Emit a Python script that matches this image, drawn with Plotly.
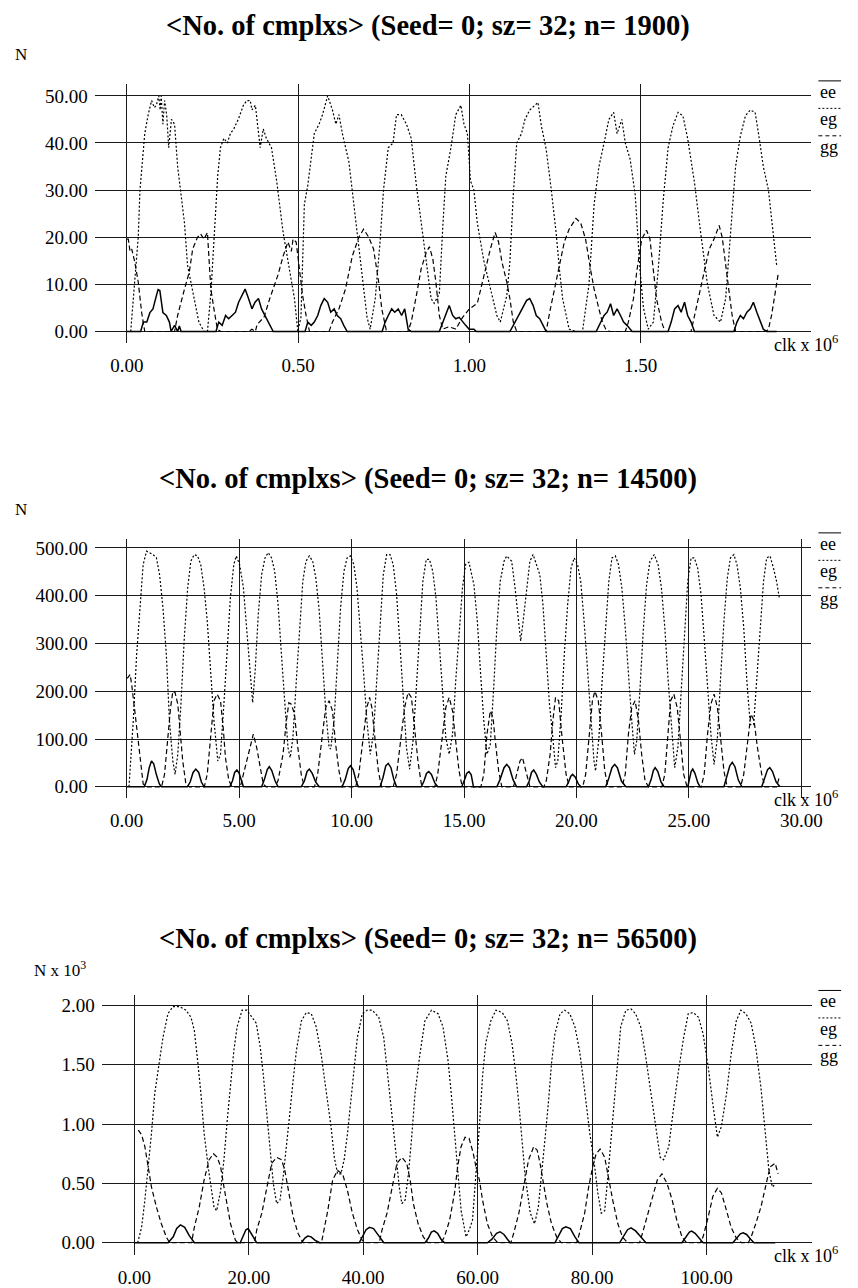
import plotly.graph_objects as go

# page body has an 8px default margin; figure is placed at (8, 8) on screen
OFF = 8
W, H = 858 - OFF, 1288 - OFF

# ---------------- Panel 1 (n = 1900), x in clk x 10^6 ----------------
p1_ee_x = [0.00, 0.040, 0.048, 0.058, 0.067, 0.076, 0.086, 0.091, 0.096, 0.100, 0.105, 0.115, 0.124, 0.129,
           0.139, 0.148, 0.153, 0.158, 0.260, 0.268, 0.278, 0.288, 0.297, 0.307, 0.317, 0.326, 0.336, 0.345,
           0.355, 0.365, 0.374, 0.384, 0.393, 0.403, 0.413, 0.422, 0.427, 0.520, 0.528, 0.538, 0.547, 0.557,
           0.566, 0.576, 0.586, 0.595, 0.605, 0.614, 0.624, 0.633, 0.643, 0.745, 0.754, 0.763, 0.773, 0.782,
           0.792, 0.802, 0.811, 0.821, 0.830, 0.912, 0.922, 0.931, 0.941, 0.951, 0.960, 0.970, 0.980, 0.989,
           0.999, 1.013, 1.020, 1.118, 1.128, 1.138, 1.147, 1.157, 1.167, 1.176, 1.186, 1.195, 1.205, 1.215,
           1.224, 1.370, 1.378, 1.393, 1.402, 1.412, 1.421, 1.431, 1.441, 1.450, 1.460, 1.469, 1.475, 1.580,
           1.589, 1.599, 1.609, 1.618, 1.628, 1.637, 1.647, 1.657, 1.772, 1.781, 1.791, 1.800, 1.810, 1.820,
           1.829, 1.839, 1.849, 1.858, 1.868, 1.897]
p1_ee_y = [0, 0, 2, 2, 4, 4.8, 7.6, 8.9, 8.7, 6.2, 4, 3.4, 2, 0,
           1.3, 0, 1.2, 0, 0, 2, 1.3, 3.4, 2.7, 3.4, 4.1, 6.2, 7.6, 9,
           7, 4.8, 6.2, 7, 4.8, 3.4, 2, 0.5, 0, 0, 2, 1.3, 2, 3.4,
           5.5, 7, 6.2, 4.1, 4.8, 3.4, 2.7, 1.3, 0, 0, 2, 3.4, 4.8, 4.1,
           4.8, 3.4, 4.8, 0.5, 0, 0, 2, 3.4, 5.5, 3.4, 2.7, 3.0, 2, 1.3,
           0.5, 0.5, 0, 0, 1.3, 2.7, 4.1, 5.5, 6.6, 7, 5.5, 3.4, 2.7, 1.3,
           0, 0, 1.3, 3.4, 4.1, 5.9, 3.4, 4.8, 3.4, 2, 1.3, 0.5, 0, 0,
           2, 4.8, 5.5, 4.1, 6.2, 3.4, 2, 0, 0, 2, 3.4, 2.7, 4.1, 4.8,
           6.2, 4.1, 2, 0.5, 0, 0]

p1_eg_x = [0.011, 0.020, 0.033, 0.038, 0.045, 0.052, 0.062, 0.072, 0.080, 0.086, 0.093, 0.097, 0.100, 0.105,
           0.110, 0.116, 0.122, 0.130, 0.139, 0.148, 0.158, 0.168, 0.177, 0.196, 0.210, 0.225, 0.235, 0.245,
           0.255, 0.265, 0.273, 0.283, 0.293, 0.302, 0.312, 0.325, 0.340, 0.350, 0.360, 0.365, 0.375, 0.389,
           0.398, 0.407, 0.422, 0.437, 0.456, 0.475, 0.489, 0.499, 0.508, 0.518, 0.528, 0.547, 0.561, 0.571,
           0.586, 0.600, 0.610, 0.619, 0.629, 0.648, 0.662, 0.681, 0.701, 0.710, 0.725, 0.739, 0.749, 0.763,
           0.777, 0.787, 0.801, 0.816, 0.830, 0.845, 0.864, 0.878, 0.888, 0.897, 0.912, 0.922, 0.931, 0.946,
           0.960, 0.975, 0.984, 0.994, 1.003, 1.013, 1.023, 1.042, 1.061, 1.080, 1.090, 1.109, 1.118, 1.128,
           1.138, 1.152, 1.162, 1.176, 1.191, 1.200, 1.210, 1.224, 1.239, 1.253, 1.263, 1.272, 1.291, 1.310,
           1.330, 1.349, 1.364, 1.378, 1.393, 1.407, 1.421, 1.431, 1.445, 1.455, 1.469, 1.484, 1.498, 1.508,
           1.522, 1.537, 1.551, 1.566, 1.580, 1.594, 1.609, 1.623, 1.637, 1.657, 1.675, 1.695, 1.714, 1.733,
           1.748, 1.762, 1.777, 1.791, 1.806, 1.820, 1.834, 1.844, 1.858, 1.873, 1.887, 1.897]
p1_eg_y = [0, 8, 20, 30, 37, 42, 46, 49, 47.5, 48, 50, 47, 50, 44,
           49, 46, 39, 45, 44, 35, 29, 23, 14, 7, 2, 0, 0, 8,
           22, 33, 39, 41, 40, 42, 43, 45, 48, 49, 49, 47, 48, 39,
           43, 41, 39, 32, 21, 13, 7, 0, 3, 27, 31, 42, 44, 46,
           50, 47, 44, 46, 42, 36, 27, 16, 3, 0.5, 7, 19, 30, 39,
           40, 46, 46, 44, 41, 31, 20, 12, 7, 6, 8, 22, 33, 39,
           46, 48, 44, 42, 32, 30, 23, 15, 9, 3.4, 2, 7.6, 14.7, 29,
           40, 42, 45, 47, 48, 48.6, 43.6, 38.7, 30, 21, 13, 7, 0.5, 0,
           0, 10, 27, 35, 40, 45, 46.5, 42, 45, 40, 36.6, 29, 13, 5,
           0.5, 2, 13, 28, 39, 43.6, 46.5, 45.8, 41, 31.6, 21, 10, 3.4, 2,
           7, 21, 35, 41.5, 45.8, 47, 46.5, 42, 35, 30, 21, 14]

p1_gg_x = [0.000, 0.004, 0.009, 0.014, 0.023, 0.033, 0.043, 0.052, 0.139, 0.148, 0.168, 0.182, 0.192, 0.206,
           0.215, 0.225, 0.235, 0.240, 0.245, 0.254, 0.264, 0.274, 0.355, 0.365, 0.375, 0.380, 0.400, 0.417,
           0.441, 0.456, 0.470, 0.480, 0.485, 0.494, 0.504, 0.513, 0.523, 0.533, 0.590, 0.600, 0.619, 0.638,
           0.658, 0.677, 0.691, 0.706, 0.720, 0.735, 0.744, 0.758, 0.820, 0.830, 0.845, 0.859, 0.874, 0.883,
           0.893, 0.902, 0.912, 0.922, 0.940, 0.960, 0.980, 1.000, 1.023, 1.042, 1.061, 1.075, 1.085, 1.095,
           1.109, 1.118, 1.128, 1.138, 1.224, 1.234, 1.248, 1.263, 1.277, 1.291, 1.311, 1.325, 1.339, 1.354,
           1.364, 1.378, 1.388, 1.398, 1.410, 1.455, 1.464, 1.479, 1.489, 1.503, 1.517, 1.527, 1.537, 1.546,
           1.561, 1.571, 1.647, 1.657, 1.671, 1.686, 1.700, 1.714, 1.729, 1.738, 1.748, 1.757, 1.767, 1.777,
           1.865, 1.873, 1.882, 1.892, 1.901]
p1_gg_y = [19.6, 19.6, 17, 17.5, 14.7, 10.5, 4, 0, 0, 3.4, 9, 12.6, 17.5, 20,
           20.7, 19.6, 21, 16, 9, 4.8, 0.5, 0, 0, 0.5, 0, 1.5, 3, 7,
           12, 16, 19, 17, 19.6, 19, 13, 7.6, 3.4, 0, 0, 2, 4.8, 9,
           16, 20, 21.7, 20, 17.5, 10.5, 4.8, 0, 0, 2, 7.6, 13.3, 16.8, 18,
           15.4, 10.5, 3.4, 0.5, 1, 0.5, 3, 4.8, 6, 12, 17.5, 21, 19, 14.7,
           10.5, 7, 2, 0, 0, 4, 9, 14.7, 19, 21.7, 24, 23, 19.6, 13,
           9, 4.8, 2, 0.5, 0, 0, 2, 7, 13, 19.6, 21.5, 19.6, 13, 7,
           2, 0, 0, 3.4, 7.6, 13, 17.5, 19.6, 22.5, 20, 14.7, 9, 3.4, 0,
           0, 0.5, 3.4, 7.6, 12]

# ---------------- Panel 2 (n = 14500) ----------------
p2_ee_x = [0.00, 0.78, 0.90, 1.00, 1.10, 1.20, 1.32, 1.45, 1.54, 2.70, 2.82, 2.95, 3.07, 3.20, 3.32, 3.44,
           4.58, 4.70, 4.80, 4.90, 5.00, 5.10, 5.19, 6.00, 6.12, 6.25, 6.34, 6.45, 6.60, 6.73,
           7.76, 7.90, 8.02, 8.12, 8.25, 8.40, 8.56, 9.58, 9.72, 9.85, 9.95, 10.07, 10.20, 10.30,
           11.27, 11.40, 11.52, 11.63, 11.75, 11.88, 12.00, 13.10, 13.22, 13.33, 13.43, 13.55, 13.70, 13.83,
           14.90, 15.02, 15.12, 15.22, 15.32, 15.42, 16.46, 16.60, 16.78, 16.90, 17.02, 17.18, 17.34,
           17.78, 17.90, 18.00, 18.10, 18.22, 18.35, 18.50, 19.54, 19.65, 19.75, 19.83, 19.95, 20.08, 20.20,
           21.30, 21.42, 21.58, 21.70, 21.82, 22.00, 22.20, 23.20, 23.32, 23.42, 23.50, 23.62, 23.76, 23.90,
           24.95, 25.03, 25.10, 25.17, 25.27, 25.40, 25.50, 26.56, 26.68, 26.82, 26.93, 27.05, 27.20, 27.36,
           28.24, 28.36, 28.50, 28.60, 28.72, 28.88, 29.05]
p2_ee_y = [0, 0, 15, 40, 54, 48, 25, 6, 0, 0, 10, 30, 37, 30, 10, 0,
           0, 12, 30, 35, 28, 10, 0, 0, 15, 36, 42, 34, 12, 0,
           0, 12, 32, 37, 28, 10, 0, 0, 16, 38, 44, 36, 12, 0,
           0, 20, 44, 49, 40, 15, 0, 0, 12, 28, 32, 26, 8, 0,
           0, 14, 28, 32, 25, 0, 0, 15, 40, 47, 40, 15, 0,
           0, 12, 30, 35, 26, 10, 0, 0, 10, 22, 26, 20, 6, 0,
           0, 15, 40, 47, 40, 12, 0, 0, 15, 34, 40, 32, 10, 0,
           0, 14, 32, 37, 28, 8, 0, 0, 18, 44, 51, 42, 14, 0,
           0, 15, 36, 40, 32, 10, 0]

p2_eg_x = [0.10, 0.29, 0.44, 0.59, 0.73, 0.88, 1.02, 1.17, 1.32, 1.46, 1.61, 1.76, 1.90, 2.05, 2.15, 2.27,
           2.41, 2.56, 2.71, 2.85, 3.00, 3.15, 3.29, 3.44, 3.58, 3.73, 3.88, 4.05, 4.17, 4.32, 4.46, 4.61,
           4.76, 4.87, 5.02, 5.19, 5.34, 5.49, 5.60, 5.71, 5.85, 6.00, 6.15, 6.29, 6.44, 6.58, 6.73, 6.88,
           7.02, 7.17, 7.27, 7.39, 7.54, 7.68, 7.83, 7.97, 8.12, 8.27, 8.41, 8.56, 8.71, 8.85, 9.00, 9.07,
           9.22, 9.37, 9.51, 9.66, 9.80, 9.95, 10.10, 10.24, 10.39, 10.54, 10.68, 10.83, 10.97, 11.12, 11.27,
           11.41, 11.56, 11.71, 11.85, 12.00, 12.15, 12.29, 12.44, 12.58, 12.73, 12.88, 13.02, 13.17, 13.32,
           13.46, 13.61, 13.75, 13.90, 14.05, 14.19, 14.34, 14.49, 14.63, 14.78, 14.93, 15.07, 15.22, 15.44,
           15.59, 15.73, 15.88, 16.02, 16.17, 16.32, 16.46, 16.61, 16.78, 16.90, 17.12, 17.27, 17.41, 17.52,
           17.63, 17.78, 17.93, 18.07, 18.22, 18.37, 18.51, 18.66, 18.80, 18.95, 19.07, 19.17, 19.32, 19.46,
           19.61, 19.76, 19.90, 20.05, 20.19, 20.34, 20.49, 20.63, 20.78, 20.85, 21.00, 21.14, 21.29, 21.44,
           21.58, 21.73, 21.87, 22.02, 22.17, 22.31, 22.46, 22.58, 22.68, 22.83, 22.97, 23.12, 23.27, 23.46,
           23.63, 23.78, 23.93, 24.07, 24.22, 24.37, 24.51, 24.66, 24.81, 24.95, 25.10, 25.24, 25.39, 25.54,
           25.68, 25.83, 25.98, 26.12, 26.27, 26.41, 26.56, 26.71, 26.85, 27.00, 27.14, 27.29, 27.44, 27.58,
           27.73, 27.88, 28.02, 28.17, 28.32, 28.46, 28.61, 28.76, 28.90, 29.02]
p2_eg_y = [0, 138, 277, 382, 465, 493, 490, 486, 479, 444, 375, 277, 138, 54, 26, 68,
           173, 312, 416, 472, 486, 483, 465, 416, 347, 242, 138, 54, 68, 173, 291, 396,
           465, 483, 465, 416, 327, 242, 176, 242, 361, 444, 479, 490, 479, 451, 382, 277,
           173, 82, 61, 103, 221, 333, 430, 472, 483, 472, 437, 368, 263, 159, 82, 79,
           138, 263, 375, 451, 479, 483, 465, 416, 333, 235, 138, 68, 110, 221, 347,
           444, 486, 486, 465, 403, 298, 187, 82, 37, 96, 208, 327, 430, 476,
           476, 451, 396, 298, 194, 103, 68, 110, 221, 327, 416, 465, 470, 423,
           347, 242, 138, 68, 89, 208, 333, 430, 472, 483, 472, 416, 347, 305,
           347, 416, 472, 486, 465, 444, 382, 277, 173, 103, 40, 54, 152, 277,
           382, 458, 479, 465, 430, 347, 242, 138, 54, 33, 103, 221, 333, 430,
           479, 483, 465, 416, 333, 228, 138, 68, 96, 208, 327, 423, 472, 486,
           465, 416, 333, 228, 124, 40, 82, 208, 327, 430, 479, 479, 458, 403,
           312, 208, 110, 47, 103, 228, 347, 437, 479, 486, 465, 416, 333, 221,
           130, 130, 221, 333, 430, 479, 483, 458, 430, 396]

p2_gg_x = [0.00, 0.04, 0.15, 0.22, 0.34, 0.44, 0.59, 0.73, 0.88, 1.55, 1.68, 1.83, 1.95, 2.05, 2.15, 2.27,
           2.39, 2.49, 2.63, 2.78, 3.45, 3.58, 3.73, 3.88, 4.02, 4.17, 4.29, 4.39, 4.54, 4.69, 5.05, 5.19,
           5.41, 5.63, 5.78, 5.93, 6.07, 6.20, 6.60, 6.73, 6.95, 7.10, 7.21, 7.32, 7.46, 7.61, 7.76, 7.90,
           8.35, 8.49, 8.71, 8.85, 9.00, 9.15, 9.29, 9.44, 9.58, 10.18, 10.32, 10.54, 10.68, 10.80, 10.90,
           11.05, 11.19, 11.33, 11.85, 12.00, 12.22, 12.36, 12.51, 12.66, 12.80, 12.95, 13.10, 13.25, 13.70,
           13.83, 14.05, 14.19, 14.34, 14.49, 14.63, 14.78, 14.92, 15.75, 15.88, 16.02, 16.17, 16.29, 16.39,
           16.54, 16.68, 17.20, 17.34, 17.49, 17.60, 17.78, 17.93, 18.55, 18.66, 18.83, 18.95, 19.07, 19.21,
           19.36, 19.54, 19.68, 20.28, 20.41, 20.56, 20.71, 20.82, 20.97, 21.12, 21.26, 21.40, 22.03, 22.17,
           22.31, 22.46, 22.61, 22.76, 22.90, 23.05, 23.20, 23.80, 23.93, 24.07, 24.19, 24.33, 24.48, 24.63,
           24.77, 24.92, 25.55, 25.68, 25.83, 25.98, 26.12, 26.27, 26.41, 26.56, 26.70, 27.30, 27.44, 27.61,
           27.76, 27.90, 28.05, 28.24, 28.38, 28.90, 29.02]
p2_gg_y = [228, 228, 235, 214, 166, 124, 54, 6, 0, 0, 26, 103, 166, 200, 197, 173,
           110, 54, 6, 0, 0, 26, 103, 180, 194, 180, 124, 61, 13, 0, 0, 26,
           68, 110, 82, 40, 6, 0, 0, 13, 68, 138, 176, 173, 152, 82, 26, 0,
           0, 26, 110, 166, 180, 159, 89, 33, 0, 0, 26, 110, 166, 187, 166,
           96, 33, 0, 0, 26, 110, 166, 197, 187, 124, 54, 6, 0, 0,
           26, 110, 166, 187, 159, 96, 33, 0, 0, 26, 110, 159, 145, 96,
           33, 0, 0, 26, 54, 61, 26, 0, 0, 13, 68, 138, 187, 180,
           103, 26, 0, 0, 26, 110, 180, 200, 180, 110, 33, 0, 0, 26,
           110, 166, 180, 138, 68, 13, 0, 0, 26, 110, 180, 194, 166, 96,
           26, 0, 0, 26, 110, 173, 194, 166, 96, 33, 0, 0, 26, 96,
           152, 138, 82, 26, 0, 0, 20]

# ---------------- Panel 3 (n = 56500), y in N x 10^3 ----------------
p3_ee_x = [0.0, 5.9, 6.8, 7.4, 8.06, 8.8, 9.6, 10.5, 18.5, 19.0, 19.5, 19.9, 20.4, 20.9, 21.4,
           29.2, 29.8, 30.3, 30.9, 31.6, 32.4, 39.3, 39.9, 40.5, 41.1, 41.8, 42.7, 43.6,
           50.8, 51.4, 51.9, 52.4, 53.0, 53.6, 54.2, 61.7, 62.5, 63.3, 63.9, 64.6, 65.2, 65.7,
           73.5, 74.2, 74.8, 75.4, 76.2, 77.0, 77.7, 84.8, 85.5, 86.2, 86.8, 87.6, 88.5, 89.4,
           95.7, 96.4, 97.0, 97.4, 98.0, 98.7, 99.4, 104.6, 105.3, 105.9, 106.4, 107.0, 107.7, 108.3, 112.0]
p3_ee_y = [0, 0, 0.05, 0.12, 0.15, 0.13, 0.06, 0, 0, 0.05, 0.11, 0.12, 0.08, 0.03, 0,
           0, 0.04, 0.056, 0.05, 0.02, 0, 0, 0.05, 0.11, 0.13, 0.12, 0.06, 0,
           0, 0.04, 0.09, 0.10, 0.08, 0.03, 0, 0, 0.03, 0.08, 0.093, 0.07, 0.03, 0,
           0, 0.06, 0.12, 0.135, 0.12, 0.05, 0, 0, 0.05, 0.11, 0.126, 0.10, 0.05, 0,
           0, 0.05, 0.09, 0.098, 0.08, 0.04, 0, 0, 0.04, 0.075, 0.084, 0.07, 0.03, 0, 0]

p3_eg_x = [0.58, 1.27, 1.84, 2.42, 2.99, 3.57, 4.43, 5.00, 5.87, 6.74, 7.89, 9.04, 9.90, 10.48, 11.05,
           11.63, 12.20, 13.07, 13.93, 14.39, 15.08, 15.66, 16.23, 16.81, 17.39, 17.96, 18.83, 19.69, 20.55,
           21.30, 22.00, 22.57, 23.14, 23.72, 24.29, 24.87, 25.45, 26.02, 26.60, 27.17, 27.75, 28.32, 29.19,
           30.05, 30.92, 31.78, 32.64, 33.51, 34.37, 34.95, 35.52, 36.10, 36.67, 37.25, 37.82, 38.40, 38.97,
           39.84, 40.70, 41.57, 42.72, 43.58, 44.16, 44.73, 45.60, 46.29, 46.75, 47.32, 47.90, 48.47, 49.05,
           49.91, 50.78, 51.93, 53.08, 53.94, 54.81, 55.38, 55.96, 56.53, 57.11, 57.97, 58.55, 59.10, 59.70,
           60.30, 60.85, 61.40, 62.30, 63.20, 64.30, 65.20, 66.00, 66.60, 67.20, 67.80, 68.30, 69.20, 69.95,
           70.60, 71.20, 71.80, 72.40, 72.90, 73.50, 74.40, 75.20, 76.10, 77.00, 77.80, 78.40, 79.00, 79.60,
           80.30, 81.00, 81.60, 82.20, 82.70, 83.30, 83.90, 84.50, 85.00, 85.90, 86.80, 87.60, 88.50, 89.30,
           90.20, 91.10, 91.90, 92.50, 93.40, 94.20, 95.10, 96.00, 96.80, 97.70, 98.60, 99.40, 100.30, 101.10,
           101.90, 102.60, 103.50, 104.30, 105.20, 106.00, 106.90, 107.80, 108.60, 109.50, 110.30, 110.90,
           111.50, 112.10]
p3_eg_y = [0, 0.13, 0.36, 0.64, 0.92, 1.26, 1.54, 1.73, 1.93, 1.99, 1.99, 1.96, 1.90, 1.79, 1.54,
           1.26, 0.92, 0.58, 0.30, 0.27, 0.44, 0.70, 1.03, 1.34, 1.62, 1.82, 1.96, 1.96, 1.90,
           1.85, 1.65, 1.40, 1.09, 0.78, 0.50, 0.33, 0.36, 0.56, 0.81, 1.09, 1.37, 1.62, 1.87,
           1.94, 1.93, 1.82, 1.59, 1.28, 0.98, 0.72, 0.58, 0.58, 0.70, 0.92, 1.20, 1.48, 1.73,
           1.93, 1.96, 1.96, 1.90, 1.73, 1.48, 1.20, 0.81, 0.47, 0.33, 0.36, 0.58, 0.89, 1.26,
           1.59, 1.87, 1.96, 1.93, 1.82, 1.54, 1.26, 0.92, 0.58, 0.27, 0.05, 0.11, 0.19, 0.56,
           0.98, 1.40, 1.68, 1.87, 1.96, 1.94, 1.87, 1.68, 1.45, 1.17, 0.84, 0.56, 0.25, 0.16,
           0.30, 0.58, 0.89, 1.20, 1.51, 1.76, 1.93, 1.96, 1.93, 1.82, 1.62, 1.40, 1.14, 0.92,
           0.70, 0.42, 0.25, 0.27, 0.53, 0.86, 1.20, 1.54, 1.82, 1.96, 1.97, 1.93, 1.82, 1.59,
           1.28, 0.98, 0.72, 0.70, 0.81, 1.12, 1.45, 1.73, 1.93, 1.94, 1.90, 1.76, 1.48, 1.17,
           0.89, 0.98, 1.26, 1.59, 1.87, 1.96, 1.93, 1.85, 1.65, 1.31, 0.92, 0.61,
           0.47, 0.50]

p3_gg_x = [0.69, 1.27, 1.84, 2.42, 2.99, 3.86, 4.72, 5.58, 6.16, 10.00, 10.48, 11.34, 12.20, 13.07, 13.82,
           14.50, 15.08, 15.66, 16.23, 16.81, 17.67, 18.20, 21.00, 21.40, 22.28, 23.14, 24.00, 24.87, 25.73,
           26.30, 26.90, 27.75, 28.60, 29.50, 32.70, 33.20, 33.80, 34.66, 35.52, 36.40, 37.25, 38.10, 39.00,
           39.84, 40.30, 42.80, 43.30, 44.16, 45.00, 45.90, 46.75, 47.60, 48.20, 48.76, 49.60, 50.50, 51.30,
           53.60, 54.20, 55.10, 55.96, 56.50, 57.10, 57.80, 58.50, 59.20, 59.70, 60.30, 60.85, 61.70, 62.60,
           63.50, 65.80, 66.30, 67.20, 68.00, 68.90, 69.80, 70.40, 70.90, 71.50, 72.10, 72.90, 73.80, 74.60,
           77.30, 77.80, 78.70, 79.40, 80.10, 80.70, 81.40, 82.20, 82.80, 83.60, 84.50, 85.30, 86.20, 88.30,
           88.80, 89.60, 90.50, 91.40, 92.20, 93.10, 94.00, 94.80, 95.70, 96.50, 98.90, 99.40, 100.30, 101.10,
           101.90, 102.60, 103.50, 104.30, 105.20, 106.10, 107.30, 107.80, 108.60, 109.50, 110.30, 111.10,
           112.00, 112.50]
p3_gg_y = [0.95, 0.91, 0.81, 0.64, 0.47, 0.30, 0.16, 0.05, 0, 0, 0.13, 0.30, 0.53, 0.70, 0.75,
           0.72, 0.64, 0.47, 0.30, 0.16, 0.02, 0, 0, 0.11, 0.25, 0.47, 0.67, 0.72, 0.70,
           0.61, 0.44, 0.22, 0.08, 0, 0, 0.11, 0.27, 0.53, 0.61, 0.58, 0.44, 0.25, 0.11,
           0.02, 0, 0, 0.11, 0.25, 0.44, 0.67, 0.72, 0.67, 0.53, 0.33, 0.16, 0.05, 0,
           0, 0.05, 0.19, 0.42, 0.64, 0.81, 0.89, 0.88, 0.76, 0.64, 0.53, 0.36, 0.16, 0.05,
           0, 0, 0.08, 0.25, 0.47, 0.70, 0.81, 0.78, 0.67, 0.50, 0.33, 0.16, 0.05, 0,
           0, 0.08, 0.25, 0.47, 0.64, 0.75, 0.79, 0.72, 0.56, 0.36, 0.16, 0.05, 0, 0,
           0.08, 0.22, 0.39, 0.53, 0.58, 0.50, 0.36, 0.19, 0.05, 0, 0, 0.05, 0.22, 0.39,
           0.46, 0.42, 0.27, 0.13, 0.04, 0, 0, 0.05, 0.16, 0.30, 0.47, 0.64,
           0.67, 0.58]

# ---------------- axes / labels ----------------
titles = ["&lt;No. of cmplxs&gt; (Seed= 0; sz= 32; n= 1900)",
          "&lt;No. of cmplxs&gt; (Seed= 0; sz= 32; n= 14500)",
          "&lt;No. of cmplxs&gt; (Seed= 0; sz= 32; n= 56500)"]
y_labels = ["N", "N", "N x 10<sup>3</sup>"]
x_label = "clk x 10<sup>6</sup>"
series_names = ["ee", "eg", "gg"]
x_ticks = [[0, 0.5, 1.0, 1.5], [0, 5, 10, 15, 20, 25, 30], [0, 20, 40, 60, 80, 100]]
y_ticks = [[0, 10, 20, 30, 40, 50], [0, 100, 200, 300, 400, 500], [0, 0.5, 1.0, 1.5, 2.0]]

# layout geometry in screen pixels: plot box (left, right, top, bottom), calibration points
geo = [
    dict(box=(96, 822, 82, 342), xc=((0, 128.5), (1.5, 649.0)), yc=((0, 330.0), (50, 94.0)),
         title_y=24, ylab=(13, 53), clk_y=342),
    dict(box=(96, 822, 538, 797), xc=((0, 128.3), (30, 811.7)), yc=((0, 786.0), (500, 546.7)),
         title_y=478, ylab=(13, 508), clk_y=798),
    dict(box=(103, 823, 995, 1255), xc=((0, 136.0), (100, 715.7)), yc=((0, 1242.7), (2, 1005.0)),
         title_y=938, ylab=(32, 968), clk_y=1254),
]

FONT = "Liberation Serif"
GRID = "#1a1a1a"


def fx(p):
    return (p - OFF) / W


def fy(p):
    return 1 - (p - OFF) / H


def val_at(cal, p):
    (v0, p0), (v1, p1) = cal
    return v0 + (p - p0) * (v1 - v0) / (p1 - p0)


fig = go.Figure()

data = [
    (p1_ee_x, p1_ee_y, p1_eg_x, p1_eg_y, p1_gg_x, p1_gg_y),
    (p2_ee_x, p2_ee_y, p2_eg_x, p2_eg_y, p2_gg_x, p2_gg_y),
    (p3_ee_x, p3_ee_y, p3_eg_x, p3_eg_y, p3_gg_x, p3_gg_y),
]
styles = [dict(dash="solid", width=1.5), dict(dash="2px,2px", width=1.2), dict(dash="5px,3px", width=1.2)]

annotations = []
shapes = []
for i, (g, d) in enumerate(zip(geo, data)):
    n = i + 1
    xa = "x" if n == 1 else f"x{n}"
    ya = "y" if n == 1 else f"y{n}"
    for k in range(3):
        fig.add_trace(go.Scatter(x=d[2 * k], y=d[2 * k + 1], mode="lines", name=series_names[k],
                                 xaxis=xa, yaxis=ya, line=dict(color="black", **styles[k]),
                                 hoverinfo="skip"))
    l, r, t, b = g["box"]
    xr = [val_at(g["xc"], l), val_at(g["xc"], r)]
    yr = [val_at(g["yc"], b), val_at(g["yc"], t)]
    axx = dict(domain=[fx(l), fx(r)], range=xr, tickvals=x_ticks[i], tickformat=".2f",
               showgrid=True, gridcolor=GRID, gridwidth=1, zeroline=False, showline=False,
               ticks="", tickfont=dict(family=FONT, size=19, color="black"), anchor=ya,
               ticklabelstandoff=9, fixedrange=True)
    axy = dict(domain=[fy(b), fy(t)], range=yr, tickvals=y_ticks[i], tickformat=".2f",
               showgrid=True, gridcolor=GRID, gridwidth=1, zeroline=False, showline=False,
               ticks="", tickfont=dict(family=FONT, size=19, color="black"), anchor=xa,
               ticklabelstandoff=6, fixedrange=True)
    fig.update_layout(**{("xaxis" if n == 1 else f"xaxis{n}"): axx,
                         ("yaxis" if n == 1 else f"yaxis{n}"): axy})

    top_grid = g["yc"][1][1]
    annotations.append(dict(text="<b>" + titles[i] + "</b>", x=fx(433), y=fy(g["title_y"]),
                            xref="paper", yref="paper", xanchor="center", yanchor="middle",
                            showarrow=False, font=dict(family=FONT, size=28.5, color="black")))
    annotations.append(dict(text=y_labels[i], x=fx(g["ylab"][0]), y=fy(g["ylab"][1]),
                            xref="paper", yref="paper", xanchor="left", yanchor="middle",
                            showarrow=False, font=dict(family=FONT, size=17, color="black")))
    annotations.append(dict(text=x_label, x=fx(782), y=fy(g["clk_y"]),
                            xref="paper", yref="paper", xanchor="left", yanchor="middle",
                            showarrow=False, font=dict(family=FONT, size=18, color="black")))
    leg_dash = ["solid", "2px,2px", "4px,3px"]
    for k in range(3):
        ly = top_grid - 15 + 27.5 * k
        shapes.append(dict(type="line", xref="paper", yref="paper", x0=fx(829), x1=fx(852),
                           y0=fy(ly), y1=fy(ly), line=dict(color="black", width=1, dash=leg_dash[k])))
        annotations.append(dict(text=series_names[k], x=fx(829), y=fy(ly + 11),
                                xref="paper", yref="paper", xanchor="left", yanchor="middle",
                                showarrow=False, font=dict(family=FONT, size=18, color="black")))

fig.update_layout(width=W, height=H, margin=dict(l=0, r=0, t=0, b=0),
                  paper_bgcolor="white", plot_bgcolor="white", showlegend=False,
                  annotations=annotations, shapes=shapes)

fig.write_html("out.html")
